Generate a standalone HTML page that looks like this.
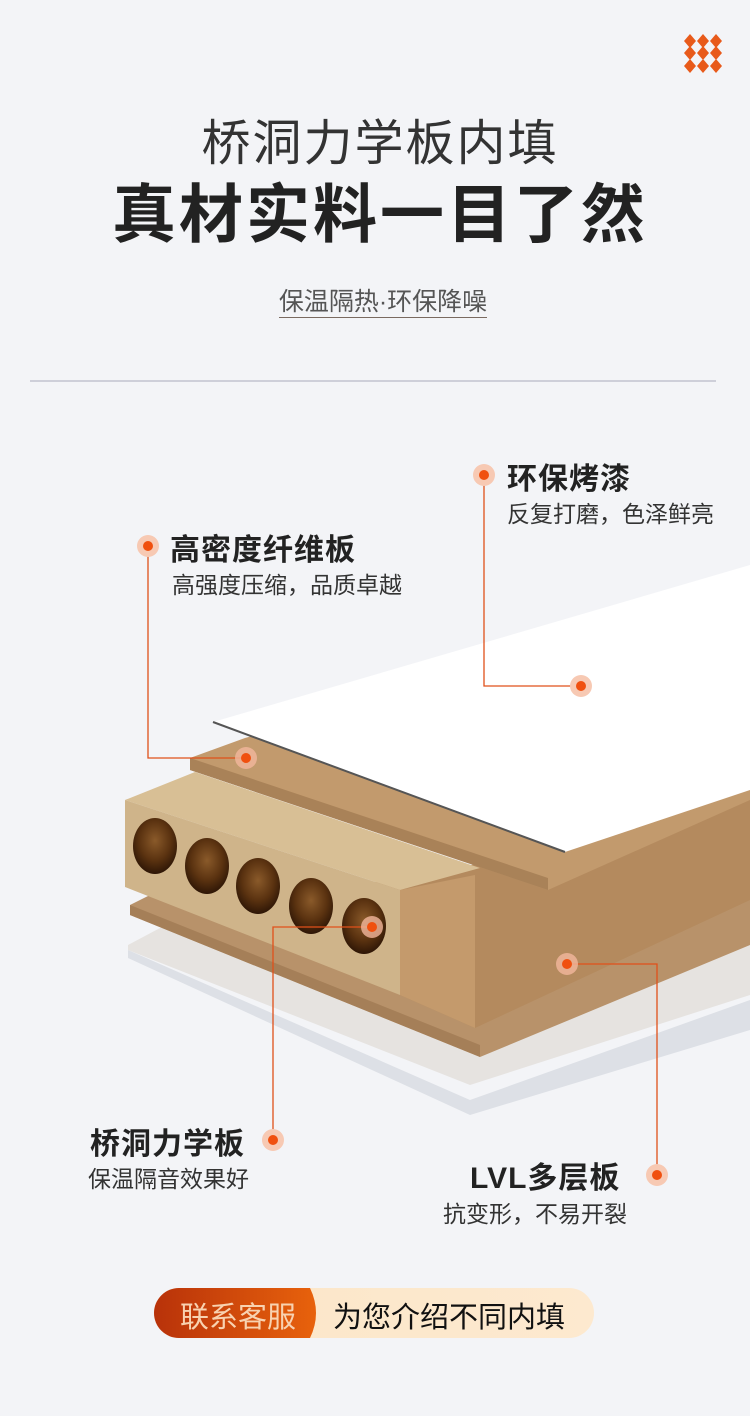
<!DOCTYPE html>
<html><head><meta charset="utf-8"><style>
body{margin:0;width:750px;height:1416px;background:#f3f4f7;font-family:"Liberation Sans","Noto Sans CJK SC",sans-serif;position:relative;overflow:hidden;color:#222}
.t{position:absolute;white-space:nowrap}
</style></head><body>
<svg width="750" height="1416" style="position:absolute;left:0;top:0">
<defs>
<radialGradient id="hole" cx="50%" cy="40%" r="60%"><stop offset="0" stop-color="#8a5a2a"/><stop offset="0.6" stop-color="#5a3210"/><stop offset="1" stop-color="#2e1606"/></radialGradient>
<linearGradient id="btnL" x1="0" x2="1"><stop offset="0" stop-color="#b8320a"/><stop offset="1" stop-color="#e8620c"/></linearGradient>
<linearGradient id="btnR" x1="0" x2="1"><stop offset="0" stop-color="#fbe6c8"/><stop offset="1" stop-color="#fde9cf"/></linearGradient>
</defs>
<g fill="#e85a1a">
<polygon points="690,34 696,41 690,48 684,41"/><polygon points="703,34 709,41 703,48 697,41"/><polygon points="716,34 722,41 716,48 710,41"/>
<polygon points="690,46 696,53 690,60 684,53"/><polygon points="703,46 709,53 703,60 697,53"/><polygon points="716,46 722,53 716,60 710,53"/>
<polygon points="690,59 696,66 690,73 684,66"/><polygon points="703,59 709,66 703,73 697,66"/><polygon points="716,59 722,66 716,73 710,66"/>
</g>
<line x1="30" y1="381" x2="716" y2="381" stroke="#aab" stroke-width="1"/>
<polygon points="128,950 470,1100 750,1000 750,1030 470,1115 128,958" fill="#dde0e6"/>
<polygon points="128,945 160,928 750,900 750,995 470,1085 128,950" fill="#e6e3e0"/>
<polygon points="130,905 150,895 750,860 750,945 480,1057 130,915" fill="#b8926a"/>
<polygon points="130,905 480,1045 480,1057 130,915" fill="#a57f58"/>
<polygon points="400,890 480,862 750,790 750,900 475,1028 400,995" fill="#b48a5e"/>
<polygon points="400,890 475,875 475,1028 400,995" fill="#c49a6c"/>
<polygon points="125,800 195,772 480,868 400,890" fill="#d8bf95"/>
<polygon points="125,800 400,890 400,995 125,887" fill="#cfb48a"/>
<ellipse cx="155" cy="846" rx="22" ry="28" fill="url(#hole)"/>
<ellipse cx="207" cy="866" rx="22" ry="28" fill="url(#hole)"/>
<ellipse cx="258" cy="886" rx="22" ry="28" fill="url(#hole)"/>
<ellipse cx="311" cy="906" rx="22" ry="28" fill="url(#hole)"/>
<ellipse cx="364" cy="926" rx="22" ry="28" fill="url(#hole)"/>
<polygon points="190,758 245,738 750,600 750,800 548,890 190,770" fill="#c29a6d"/>
<polygon points="190,758 548,878 548,890 190,770" fill="#a98258"/>
<polygon points="213,722 750,565 750,790 565,852" fill="#ffffff"/>
<line x1="213" y1="722" x2="565" y2="852" stroke="#555" stroke-width="2"/>
<g stroke="#e0501a" stroke-width="1.3" fill="none">
<polyline points="148,546 148,758 246,758"/>
<polyline points="484,475 484,686 581,686"/>
<polyline points="273,1140 273,927 372,927"/>
<polyline points="657,1175 657,964 567,964"/>
</g>
<g>
<circle cx="148" cy="546" r="11" fill="#f7c9b3"/><circle cx="148" cy="546" r="5" fill="#f0500f"/>
<circle cx="246" cy="758" r="11" fill="#f2b79c" opacity=".8"/><circle cx="246" cy="758" r="5" fill="#f0500f"/>
<circle cx="484" cy="475" r="11" fill="#f7c9b3"/><circle cx="484" cy="475" r="5" fill="#f0500f"/>
<circle cx="581" cy="686" r="11" fill="#f7c9b3"/><circle cx="581" cy="686" r="5" fill="#f0500f"/>
<circle cx="372" cy="927" r="11" fill="#f2b79c" opacity=".8"/><circle cx="372" cy="927" r="5" fill="#f0500f"/>
<circle cx="567" cy="964" r="11" fill="#f2b79c" opacity=".8"/><circle cx="567" cy="964" r="5" fill="#f0500f"/>
<circle cx="273" cy="1140" r="11" fill="#f7c9b3"/><circle cx="273" cy="1140" r="5" fill="#f0500f"/>
<circle cx="657" cy="1175" r="11" fill="#f7c9b3"/><circle cx="657" cy="1175" r="5" fill="#f0500f"/>
</g>
<rect x="154" y="1288" width="440" height="50" rx="25" fill="url(#btnR)"/>
<path d="M179,1288 H310 Q322,1313 310,1338 H179 A25,25 0 0 1 179,1288 Z" fill="url(#btnL)"/>
</svg>
<div class="t" style="left:0;width:760px;text-align:center;top:104px;font-size:49px;color:#333;letter-spacing:2px">桥洞力学板内填</div>
<div class="t" style="left:0;width:760px;text-align:center;top:164px;font-size:64px;font-weight:bold;color:#222;letter-spacing:3px">真材实料一目了然</div>
<div class="t" style="left:0;width:766px;text-align:center;top:282px;font-size:25px;color:#555"><span style="border-bottom:1.5px solid #7a6a60;padding-bottom:1px">保温隔热·环保降噪</span></div>
<div class="t" style="left:170px;top:525px;font-size:30px;font-weight:bold;letter-spacing:1px">高密度纤维板</div>
<div class="t" style="left:172px;top:566px;font-size:23px;color:#333">高强度压缩，品质卓越</div>
<div class="t" style="left:507px;top:454px;font-size:30px;font-weight:bold;letter-spacing:1px">环保烤漆</div>
<div class="t" style="left:507px;top:495px;font-size:23px;color:#333">反复打磨，色泽鲜亮</div>
<div class="t" style="left:90px;top:1119px;font-size:30px;font-weight:bold;letter-spacing:1px">桥洞力学板</div>
<div class="t" style="left:88px;top:1160px;font-size:23px;color:#333">保温隔音效果好</div>
<div class="t" style="left:470px;top:1153px;font-size:30px;font-weight:bold;letter-spacing:1px">LVL多层板</div>
<div class="t" style="left:443px;top:1195px;font-size:23px;color:#333">抗变形，不易开裂</div>
<div class="t" style="left:180px;top:1294px;font-size:29px;color:#f8d2b0">联系客服</div>
<div class="t" style="left:333px;top:1294px;font-size:29px;color:#111">为您介绍不同内填</div>
</body></html>
